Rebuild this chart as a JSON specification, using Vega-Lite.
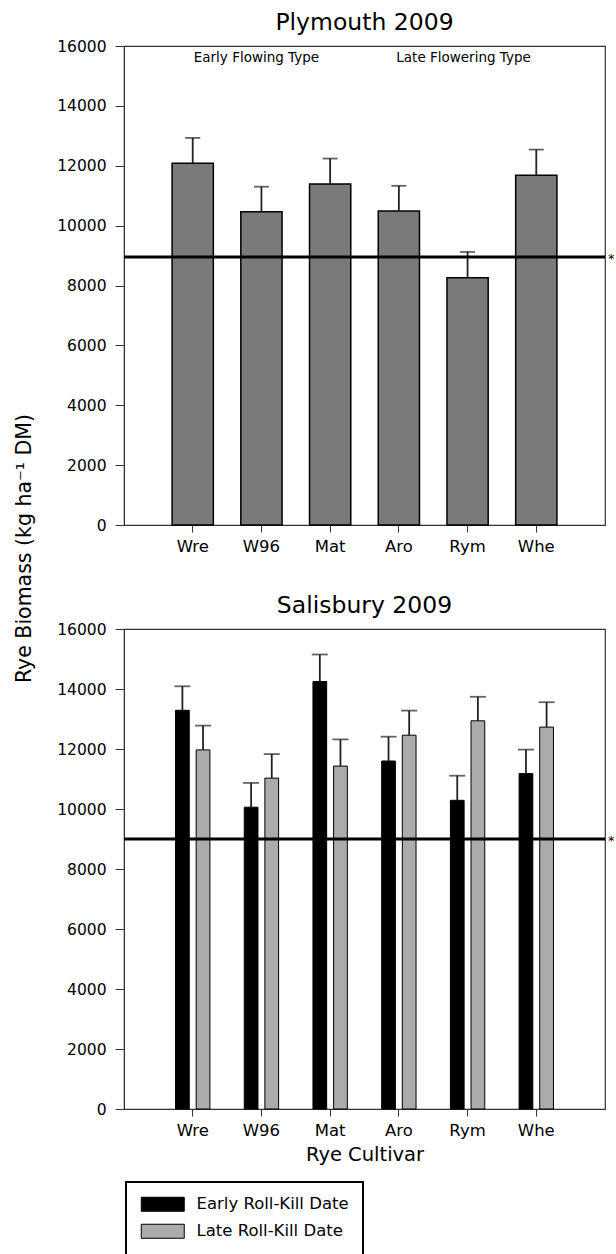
{
  "$schema": "https://vega.github.io/schema/vega-lite/v6.json",
  "padding": {"left": 13, "top": 9, "right": 0, "bottom": 0},
  "bounds": "flush",
  "spacing": 104,
  "config": {
    "font": "DejaVu Sans",
    "view": {"stroke": "#333", "strokeWidth": 1.2},
    "axis": {"labelFont": "DejaVu Sans", "titleFont": "DejaVu Sans", "labelColor": "#000", "titleColor": "#000", "domainColor": "#333", "tickColor": "#333", "grid": false, "titleFontWeight": "normal"},
    "title": {"font": "DejaVu Sans", "fontSize": 23.5, "fontWeight": "normal", "color": "#000", "offset": 5}
  },
  "datasets": {
    "ply": [
      {"cultivar": "Wre", "biomass": 12080, "upper": 12930},
      {"cultivar": "W96", "biomass": 10460, "upper": 11300},
      {"cultivar": "Mat", "biomass": 11390, "upper": 12240},
      {"cultivar": "Aro", "biomass": 10490, "upper": 11330},
      {"cultivar": "Rym", "biomass": 8260, "upper": 9120},
      {"cultivar": "Whe", "biomass": 11680, "upper": 12540}
    ],
    "sal": [
      {"cultivar": "Wre", "date": "Early Roll-Kill Date", "biomass": 13290, "upper": 14090},
      {"cultivar": "Wre", "date": "Late Roll-Kill Date", "biomass": 11970, "upper": 12780},
      {"cultivar": "W96", "date": "Early Roll-Kill Date", "biomass": 10060, "upper": 10870},
      {"cultivar": "W96", "date": "Late Roll-Kill Date", "biomass": 11030, "upper": 11830},
      {"cultivar": "Mat", "date": "Early Roll-Kill Date", "biomass": 14250, "upper": 15150},
      {"cultivar": "Mat", "date": "Late Roll-Kill Date", "biomass": 11430, "upper": 12320},
      {"cultivar": "Aro", "date": "Early Roll-Kill Date", "biomass": 11600, "upper": 12410},
      {"cultivar": "Aro", "date": "Late Roll-Kill Date", "biomass": 12460, "upper": 13280},
      {"cultivar": "Rym", "date": "Early Roll-Kill Date", "biomass": 10290, "upper": 11110},
      {"cultivar": "Rym", "date": "Late Roll-Kill Date", "biomass": 12940, "upper": 13740},
      {"cultivar": "Whe", "date": "Early Roll-Kill Date", "biomass": 11180, "upper": 11980},
      {"cultivar": "Whe", "date": "Late Roll-Kill Date", "biomass": 12730, "upper": 13560}
    ],
    "plyref": [{"threshold": 8950}],
    "salref": [{"threshold": 9000}]
  },
  "vconcat": [
    {
      "width": 481,
      "height": 479,
      "title": {"text": "Plymouth 2009"},
      "layer": [
        {
          "data": {"name": "ply"},
          "mark": {"type": "bar", "fill": "#7a7a7a", "stroke": "black", "strokeWidth": 1.5},
          "encoding": {
            "x": {"field": "cultivar", "type": "nominal", "sort": null,
                  "scale": {"paddingInner": 0.4, "paddingOuter": 0.7},
                  "axis": {"title": null, "labelAngle": 0, "labelFontSize": 16.5, "tickSize": 7, "labelPadding": 6}},
            "y": {"field": "biomass", "type": "quantitative",
                  "scale": {"domain": [0, 16000], "nice": false},
                  "axis": {"values": [0, 2000, 4000, 6000, 8000, 10000, 12000, 14000, 16000], "format": "d",
                           "labelFontSize": 15.5, "tickSize": 9, "labelPadding": 9,
                           "title": "Rye Biomass (kg ha⁻¹ DM)", "titleFontSize": 20.5,
                           "titleX": -100, "titleY": 502, "titleAngle": 270, "titleAlign": "center", "titleBaseline": "middle"}}
          }
        },
        {
          "data": {"name": "ply"},
          "mark": {"type": "rule", "stroke": "#222", "strokeWidth": 1.8},
          "encoding": {
            "x": {"field": "cultivar", "type": "nominal", "sort": null},
            "y": {"field": "biomass", "type": "quantitative"},
            "y2": {"field": "upper"}
          }
        },
        {
          "data": {"name": "ply"},
          "mark": {"type": "tick", "color": "#222", "size": 15, "thickness": 1.8},
          "encoding": {
            "x": {"field": "cultivar", "type": "nominal", "sort": null},
            "y": {"field": "upper", "type": "quantitative"}
          }
        },
        {
          "data": {"name": "plyref"},
          "mark": {"type": "rule", "stroke": "black", "strokeWidth": 3},
          "encoding": {"y": {"field": "threshold", "type": "quantitative"}}
        },
        {
          "data": {"name": "plyref"},
          "mark": {"type": "text", "text": "*", "align": "left", "baseline": "middle", "dx": 3, "dy": 2, "fontSize": 13, "color": "#000"},
          "encoding": {"x": {"value": "width"}, "y": {"field": "threshold", "type": "quantitative"}}
        },
        {
          "data": {"name": "plyref"},
          "mark": {"type": "text", "text": "Early Flowing Type", "fontSize": 13.5, "color": "#000", "dx": -5, "baseline": "middle"},
          "encoding": {"x": {"datum": "W96", "type": "nominal"}, "y": {"datum": 15600, "type": "quantitative"}}
        },
        {
          "data": {"name": "plyref"},
          "mark": {"type": "text", "text": "Late Flowering Type", "fontSize": 13.5, "color": "#000", "dx": -4, "baseline": "middle"},
          "encoding": {"x": {"datum": "Rym", "type": "nominal"}, "y": {"datum": 15600, "type": "quantitative"}}
        }
      ]
    },
    {
      "width": 481,
      "height": 480,
      "title": {"text": "Salisbury 2009"},
      "layer": [
        {
          "data": {"name": "sal"},
          "mark": {"type": "bar", "stroke": "black", "strokeWidth": 1},
          "encoding": {
            "x": {"field": "cultivar", "type": "nominal", "sort": null,
                  "scale": {"paddingInner": 0.5, "paddingOuter": 0.75},
                  "axis": {"title": "Rye Cultivar", "titleFontSize": 19.5, "titlePadding": 7, "labelAngle": 0, "labelFontSize": 16.5, "tickSize": 7, "labelPadding": 6}},
            "xOffset": {"field": "date", "type": "nominal", "scale": {"paddingInner": 0.335, "paddingOuter": 0}},
            "y": {"field": "biomass", "type": "quantitative",
                  "scale": {"domain": [0, 16000], "nice": false},
                  "axis": {"values": [0, 2000, 4000, 6000, 8000, 10000, 12000, 14000, 16000], "format": "d",
                           "labelFontSize": 15.5, "tickSize": 9, "labelPadding": 9, "title": null}},
            "color": {"field": "date", "type": "nominal",
                      "scale": {"domain": ["Early Roll-Kill Date", "Late Roll-Kill Date"], "range": ["black", "#ababab"]},
                      "legend": {"title": null, "orient": "none", "legendX": 2, "legendY": 1136, "padding": 14,
                                 "strokeColor": "black", "labelFontSize": 16.5, "labelFont": "DejaVu Sans", "labelColor": "#000",
                                 "labelOffset": 40, "rowPadding": 8,
                                 "symbolType": "M-1,-1H5.143V1H-1Z", "symbolSize": 196,
                                 "symbolStrokeColor": "black", "symbolStrokeWidth": 1, "symbolOpacity": 1,
                                 "encode": {"legend": {"update": {"strokeWidth": {"value": 2}}}}}}
          }
        },
        {
          "data": {"name": "sal"},
          "mark": {"type": "rule", "stroke": "#222", "strokeWidth": 1.8},
          "encoding": {
            "x": {"field": "cultivar", "type": "nominal", "sort": null},
            "xOffset": {"field": "date", "type": "nominal"},
            "y": {"field": "biomass", "type": "quantitative"},
            "y2": {"field": "upper"}
          }
        },
        {
          "data": {"name": "sal"},
          "mark": {"type": "tick", "color": "#222", "size": 16, "thickness": 1.8},
          "encoding": {
            "x": {"field": "cultivar", "type": "nominal", "sort": null},
            "xOffset": {"field": "date", "type": "nominal"},
            "y": {"field": "upper", "type": "quantitative"}
          }
        },
        {
          "data": {"name": "salref"},
          "mark": {"type": "rule", "stroke": "black", "strokeWidth": 3},
          "encoding": {"y": {"field": "threshold", "type": "quantitative"}}
        },
        {
          "data": {"name": "salref"},
          "mark": {"type": "text", "text": "*", "align": "left", "baseline": "middle", "dx": 3, "dy": 2, "fontSize": 13, "color": "#000"},
          "encoding": {"x": {"value": "width"}, "y": {"field": "threshold", "type": "quantitative"}}
        }
      ]
    }
  ]
}
